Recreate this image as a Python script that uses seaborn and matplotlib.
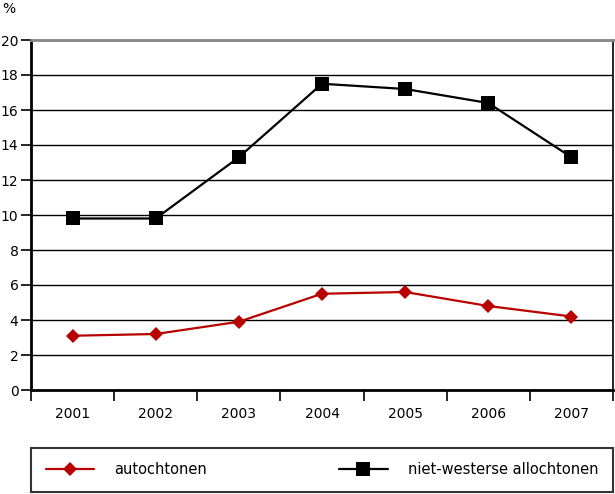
import matplotlib
matplotlib.use("Agg")
import matplotlib.pyplot as plt
import seaborn as sns
import pandas as pd
import numpy as np

years = [2001, 2002, 2003, 2004, 2005, 2006, 2007]
autochtonen = [3.1, 3.2, 3.9, 5.5, 5.6, 4.8, 4.2]
niet_westers = [9.8, 9.8, 13.3, 17.5, 17.2, 16.4, 13.3]
series_names = ["autochtonen", "niet-westerse allochtonen"]
y_ticks = [0, 2, 4, 6, 8, 10, 12, 14, 16, 18, 20]

sns.set_theme(style="white")
plt.rcParams['font.family'] = ['DejaVu Sans']
plt.rcParams['text.color'] = 'black'

df = pd.DataFrame({
    "jaar": years * 2,
    "waarde": autochtonen + niet_westers,
    "groep": [series_names[0]] * len(years) + [series_names[1]] * len(years),
})

fig = plt.figure(figsize=(6.15, 4.94), dpi=100)
ax = fig.add_axes([31/615, (494-390)/494, (613-31)/615, (390-40)/494])

sns.lineplot(data=df, x="jaar", y="waarde", hue="groep", style="groep",
             palette={series_names[0]: "#B80000", series_names[1]: "black"},
             markers={series_names[0]: "D", series_names[1]: "s"},
             dashes=False, markersize=9, markeredgewidth=0,
             linewidth=1.6, ax=ax, legend=True)
for line in ax.get_lines():
    if line.get_marker() == "s":
        line.set_markersize(10)
    elif line.get_marker() == "D":
        line.set_markersize(7)

ax.set_xlim(years[0] - 0.5, years[-1] + 0.5)
ax.set_ylim(0, 20)
ax.set_yticks(y_ticks)
ax.set_yticklabels([str(t) for t in y_ticks], fontsize=10, color="black")
ax.set_xticks(years)
ax.set_xticklabels([str(y) for y in years], fontsize=10, color="black")
ax.set_xticks([y + 0.5 for y in [years[0] - 1] + years], minor=True)
ax.tick_params(axis="x", which="major", length=0, pad=12)
ax.tick_params(axis="x", which="minor", length=8, width=1.2, color="black", direction="out", bottom=True)
ax.tick_params(axis="y", which="major", length=7.5, width=1.2, color="black", direction="out", pad=1.5, left=True)
ax.set_xlabel("")
ax.set_ylabel("")

ax.grid(axis="y", color="black", linewidth=1.0)
ax.grid(axis="x", visible=False)
ax.set_axisbelow(True)

for side in ["left", "bottom"]:
    ax.spines[side].set_color("black")
    ax.spines[side].set_linewidth(2)
ax.spines["top"].set_color("#888888")
ax.spines["top"].set_linewidth(2)
ax.spines["right"].set_color("black")
ax.spines["right"].set_linewidth(1.2)

handles, labels = ax.get_legend_handles_labels()
ax.get_legend().remove()
leg = fig.legend(handles, labels, loc="lower left",
                 bbox_to_anchor=(31/615, (494-492)/494, (613-31)/615, 46/494),
                 mode="expand", ncol=2, frameon=True, fancybox=False,
                 edgecolor="black", fontsize=10.5, handlelength=3.3,
                 handletextpad=1.4, borderpad=1.0, borderaxespad=0)
leg.get_frame().set_linewidth(1.5)
for t in leg.get_texts():
    t.set_color("black")

fig.text(2/615, 1 - 9/494, "%", fontsize=10, color="black", va="center", ha="left")

fig.savefig("out.png", dpi=100)
